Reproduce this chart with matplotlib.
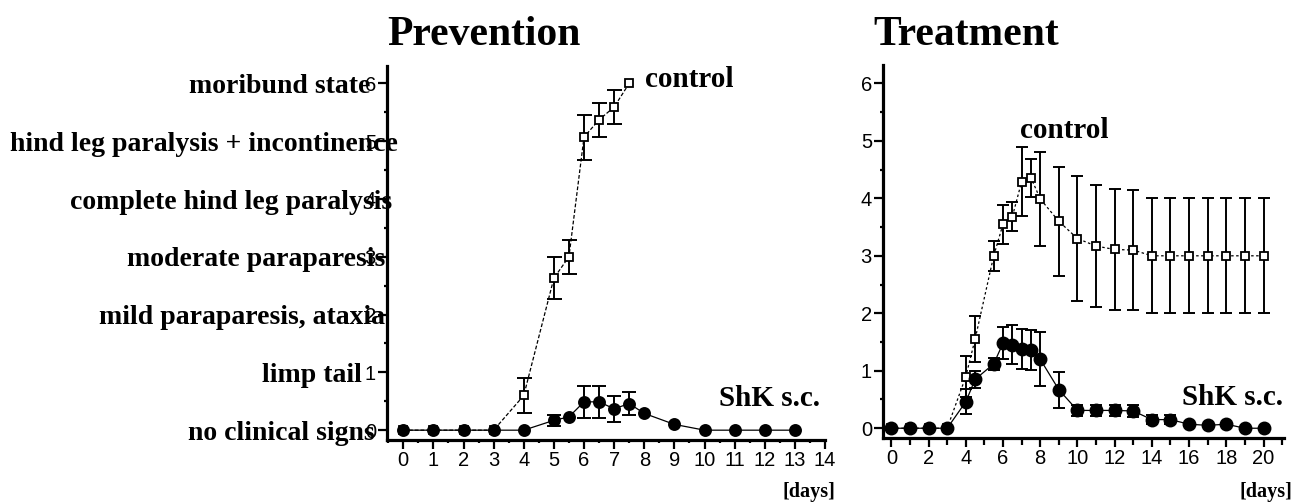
import numpy as np
import matplotlib
matplotlib.use("Agg")
import matplotlib.pyplot as plt
from matplotlib import font_manager
from matplotlib.font_manager import FontProperties
from matplotlib.ticker import MultipleLocator

# ---------------- data ----------------
score_labels = ["no clinical signs", "limp tail", "mild paraparesis, ataxia",
                "moderate paraparesis", "complete hind leg paralysis",
                "hind leg paralysis + incontinence", "moribund state"]
score_values = [0, 1, 2, 3, 4, 5, 6]

prev_ctrl_days = [0, 1, 2, 3, 4, 5, 5.5, 6, 6.5, 7, 7.5]
prev_ctrl = [0, 0, 0, 0, 0.6, 2.63, 3.0, 5.07, 5.37, 5.59, 6.0]
prev_ctrl_err = [0, 0, 0, 0, 0.31, 0.36, 0.29, 0.39, 0.29, 0.29, 0]

prev_shk_days = [0, 1, 2, 3, 4, 5, 5.5, 6, 6.5, 7, 7.5, 8, 9, 10, 11, 12, 13]
prev_shk = [0, 0, 0, 0, 0, 0.17, 0.23, 0.49, 0.49, 0.37, 0.46, 0.29, 0.1, 0, 0, 0, 0]
prev_shk_err = [0, 0, 0, 0, 0, 0.1, 0, 0.28, 0.28, 0.22, 0.2, 0, 0, 0, 0, 0, 0]

treat_days = [0, 1, 2, 3, 4, 4.5, 5.5, 6, 6.5, 7, 7.5, 8, 9, 10, 11, 12, 13,
              14, 15, 16, 17, 18, 19, 20]
treat_ctrl = [0, 0, 0, 0, 0.9, 1.55, 3.0, 3.55, 3.68, 4.29, 4.36, 3.99, 3.6,
              3.3, 3.17, 3.11, 3.1, 3.0, 3.0, 3.0, 3.0, 3.0, 3.0, 3.0]
treat_ctrl_err = [0, 0, 0, 0, 0.35, 0.4, 0.26, 0.34, 0.25, 0.6, 0.33, 0.82,
                  0.95, 1.08, 1.06, 1.05, 1.05, 1.0, 1.0, 1.0, 1.0, 1.0, 1.0, 1.0]
treat_shk = [0, 0, 0, 0, 0.46, 0.85, 1.12, 1.48, 1.45, 1.38, 1.36, 1.2, 0.67,
             0.31, 0.31, 0.31, 0.3, 0.15, 0.15, 0.07, 0.05, 0.07, 0, 0]
treat_shk_err = [0, 0, 0, 0, 0.22, 0.15, 0.1, 0.28, 0.34, 0.35, 0.35, 0.47,
                 0.31, 0.1, 0.1, 0.1, 0.1, 0.08, 0.08, 0, 0, 0, 0, 0]

prev_xticks = list(range(0, 15))
treat_xticks = list(range(0, 21, 2))

# ---------------- fonts ----------------
def has_font(name):
    try:
        font_manager.findfont(FontProperties(family=name), fallback_to_default=False)
        return True
    except Exception:
        return False

if has_font("Liberation Sans Narrow"):
    num_family, num_size = ["Liberation Sans Narrow"], 16
else:
    num_family, num_size = ["Liberation Sans"], 14.5
serif = ["Liberation Serif", "DejaVu Serif"]
plt.rcParams["font.family"] = num_family

W, H = 1297, 503
fig = plt.figure(figsize=(W / 100, H / 100), dpi=100)

ax1 = fig.add_axes([387 / W, 1 - 440 / H, (825 - 387) / W, (440 - 66) / H])
ax2 = fig.add_axes([883 / W, 1 - 438 / H, (1284 - 883) / W, (438 - 65) / H])

ax1.set_xlim(-0.54, 14)
ax1.set_ylim(-0.17, 6.3)
ax2.set_xlim(-0.45, 21.1)
ax2.set_ylim(-0.17, 6.32)


def draw_series(ax, x, y, err, marker, mfc, ms, ls, z, cap):
    x = np.asarray(x, float)
    y = np.asarray(y, float)
    err = np.asarray(err, float)
    m = err > 0
    ax.errorbar(x[m], y[m], yerr=err[m], fmt="none", ecolor="black",
                elinewidth=1.4, capsize=cap, capthick=1.4, zorder=z,
                clip_on=False)
    ax.plot(x, y, color="black", lw=0.9, ls=ls, marker=marker, ms=ms,
            mfc=mfc, mec="black", mew=1.3, zorder=z + 0.5, clip_on=False)


dash = (0, (3, 1.6))
draw_series(ax1, prev_ctrl_days, prev_ctrl, prev_ctrl_err, "s", "white", 6.3,
            dash, 3, 5.4)
draw_series(ax1, prev_shk_days, prev_shk, prev_shk_err, "o", "black", 8,
            "-", 5, 5.0)
draw_series(ax2, treat_days, treat_ctrl, treat_ctrl_err, "s", "white", 6.3,
            (0, (2, 2)), 3, 4.4)
draw_series(ax2, treat_days, treat_shk, treat_shk_err, "o", "black", 8.7,
            "-", 5, 4.2)

ax1.set_xticks(prev_xticks)
ax1.xaxis.set_minor_locator(MultipleLocator(0.5))
ax2.set_xticks(treat_xticks)
ax2.xaxis.set_minor_locator(MultipleLocator(1))

for ax in (ax1, ax2):
    for s in ("top", "right"):
        ax.spines[s].set_visible(False)
    for s in ("left", "bottom"):
        ax.spines[s].set_linewidth(2.3)
    ax.set_yticks(score_values)
    ax.yaxis.set_minor_locator(MultipleLocator(0.5))
    ax.tick_params(which="major", direction="out", width=1.6, length=6.5,
                   pad=1.5, labelsize=num_size)
    ax.tick_params(which="minor", direction="out", width=1.6, length=2.5)
    for lab in ax.get_xticklabels() + ax.get_yticklabels():
        lab.set_family(num_family)
        lab.set_fontsize(num_size)

ax2.tick_params(axis="x", which="minor", length=5)

# category labels on the left (right edges in pixels)
label_right_px = [375, 362, 385, 385, 392, 398, 370]
for txt, val, xr in zip(score_labels, score_values, label_right_px):
    ax1.annotate(txt, xy=(xr, val), xycoords=("figure pixels", "data"),
                 xytext=(0, -7.0), textcoords="offset points",
                 ha="right", va="baseline", family=serif, weight="bold",
                 fontsize=20, annotation_clip=False)

# titles
fig.text(484 / W, 1 - 45 / H, "Prevention", ha="center", va="baseline",
         family=serif, weight="bold", fontsize=30)
fig.text(966 / W, 1 - 45 / H, "Treatment", ha="center", va="baseline",
         family=serif, weight="bold", fontsize=30)

# series labels
fig.text(645 / W, 1 - 87 / H, "control", ha="left", va="baseline",
         family=serif, weight="bold", fontsize=21)
fig.text(1020 / W, 1 - 138 / H, "control", ha="left", va="baseline",
         family=serif, weight="bold", fontsize=21)
fig.text(820 / W, 1 - 406 / H, "ShK s.c.", ha="right", va="baseline",
         family=serif, weight="bold", fontsize=21)
fig.text(1283 / W, 1 - 405 / H, "ShK s.c.", ha="right", va="baseline",
         family=serif, weight="bold", fontsize=21)

# axis unit labels
fig.text(835 / W, 1 - 497 / H, "[days]", ha="right", va="baseline",
         family=serif, weight="bold", fontsize=14.5)
fig.text(1292 / W, 1 - 497 / H, "[days]", ha="right", va="baseline",
         family=serif, weight="bold", fontsize=14.5)

fig.savefig("out.png", dpi=100, facecolor="white")
